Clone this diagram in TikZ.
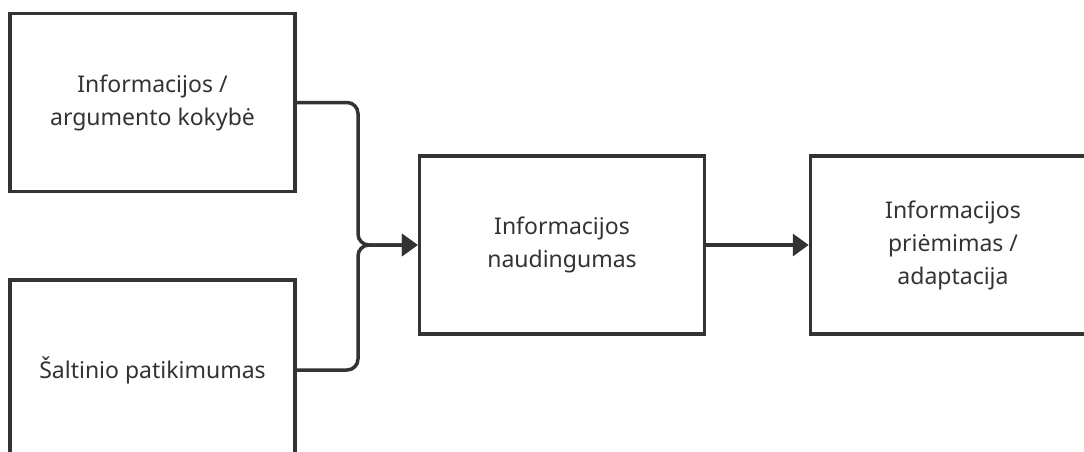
\documentclass[tikz,border=0pt]{standalone}
\usepackage{fontspec}
\setmainfont{Noto Sans}
\usetikzlibrary{arrows.meta}
\definecolor{ink}{HTML}{333333}
\definecolor{txt}{HTML}{333333}
\tikzset{
  blk/.style={draw=ink, line width=3.5pt, fill=white, minimum width=285pt,
    minimum height=178pt, align=center, inner sep=0pt, text=txt,
    font=\fontsize{23}{33}\selectfont},
  flow/.style={draw=ink, line width=3.5pt, rounded corners=11pt,
    -{Triangle[length=16pt, width=22pt]}},
}
\begin{document}
\begin{tikzpicture}[x=1pt, y=-1pt]
  \useasboundingbox (0,0) rectangle (1084,452);
  \clip (0,0) rectangle (1084,452);
  \fill[white] (0,0) rectangle (1084,452);
  \node[blk] (quality) at (152.5,102.5) {Informacijos /\\argumento kokybė};
  \node[blk, minimum height=180pt] (source) at (152.5,370) {Šaltinio patikimumas};
  \node[blk] (useful) at (562,245) {Informacijos\\naudingumas};
  \node[blk] (adopt) at (953,245) {Informacijos\\priėmimas /\\adaptacija};
  \coordinate (bend) at (358,0);
  \draw[flow] (quality.east) -- (quality.east -| bend) -- (bend |- useful.west) -- (useful.west);
  \draw[flow] (source.east) -- (source.east -| bend) -- (bend |- useful.west) -- (useful.west);
  \draw[flow] (useful.east) -- (adopt.west);
\end{tikzpicture}
\end{document}
